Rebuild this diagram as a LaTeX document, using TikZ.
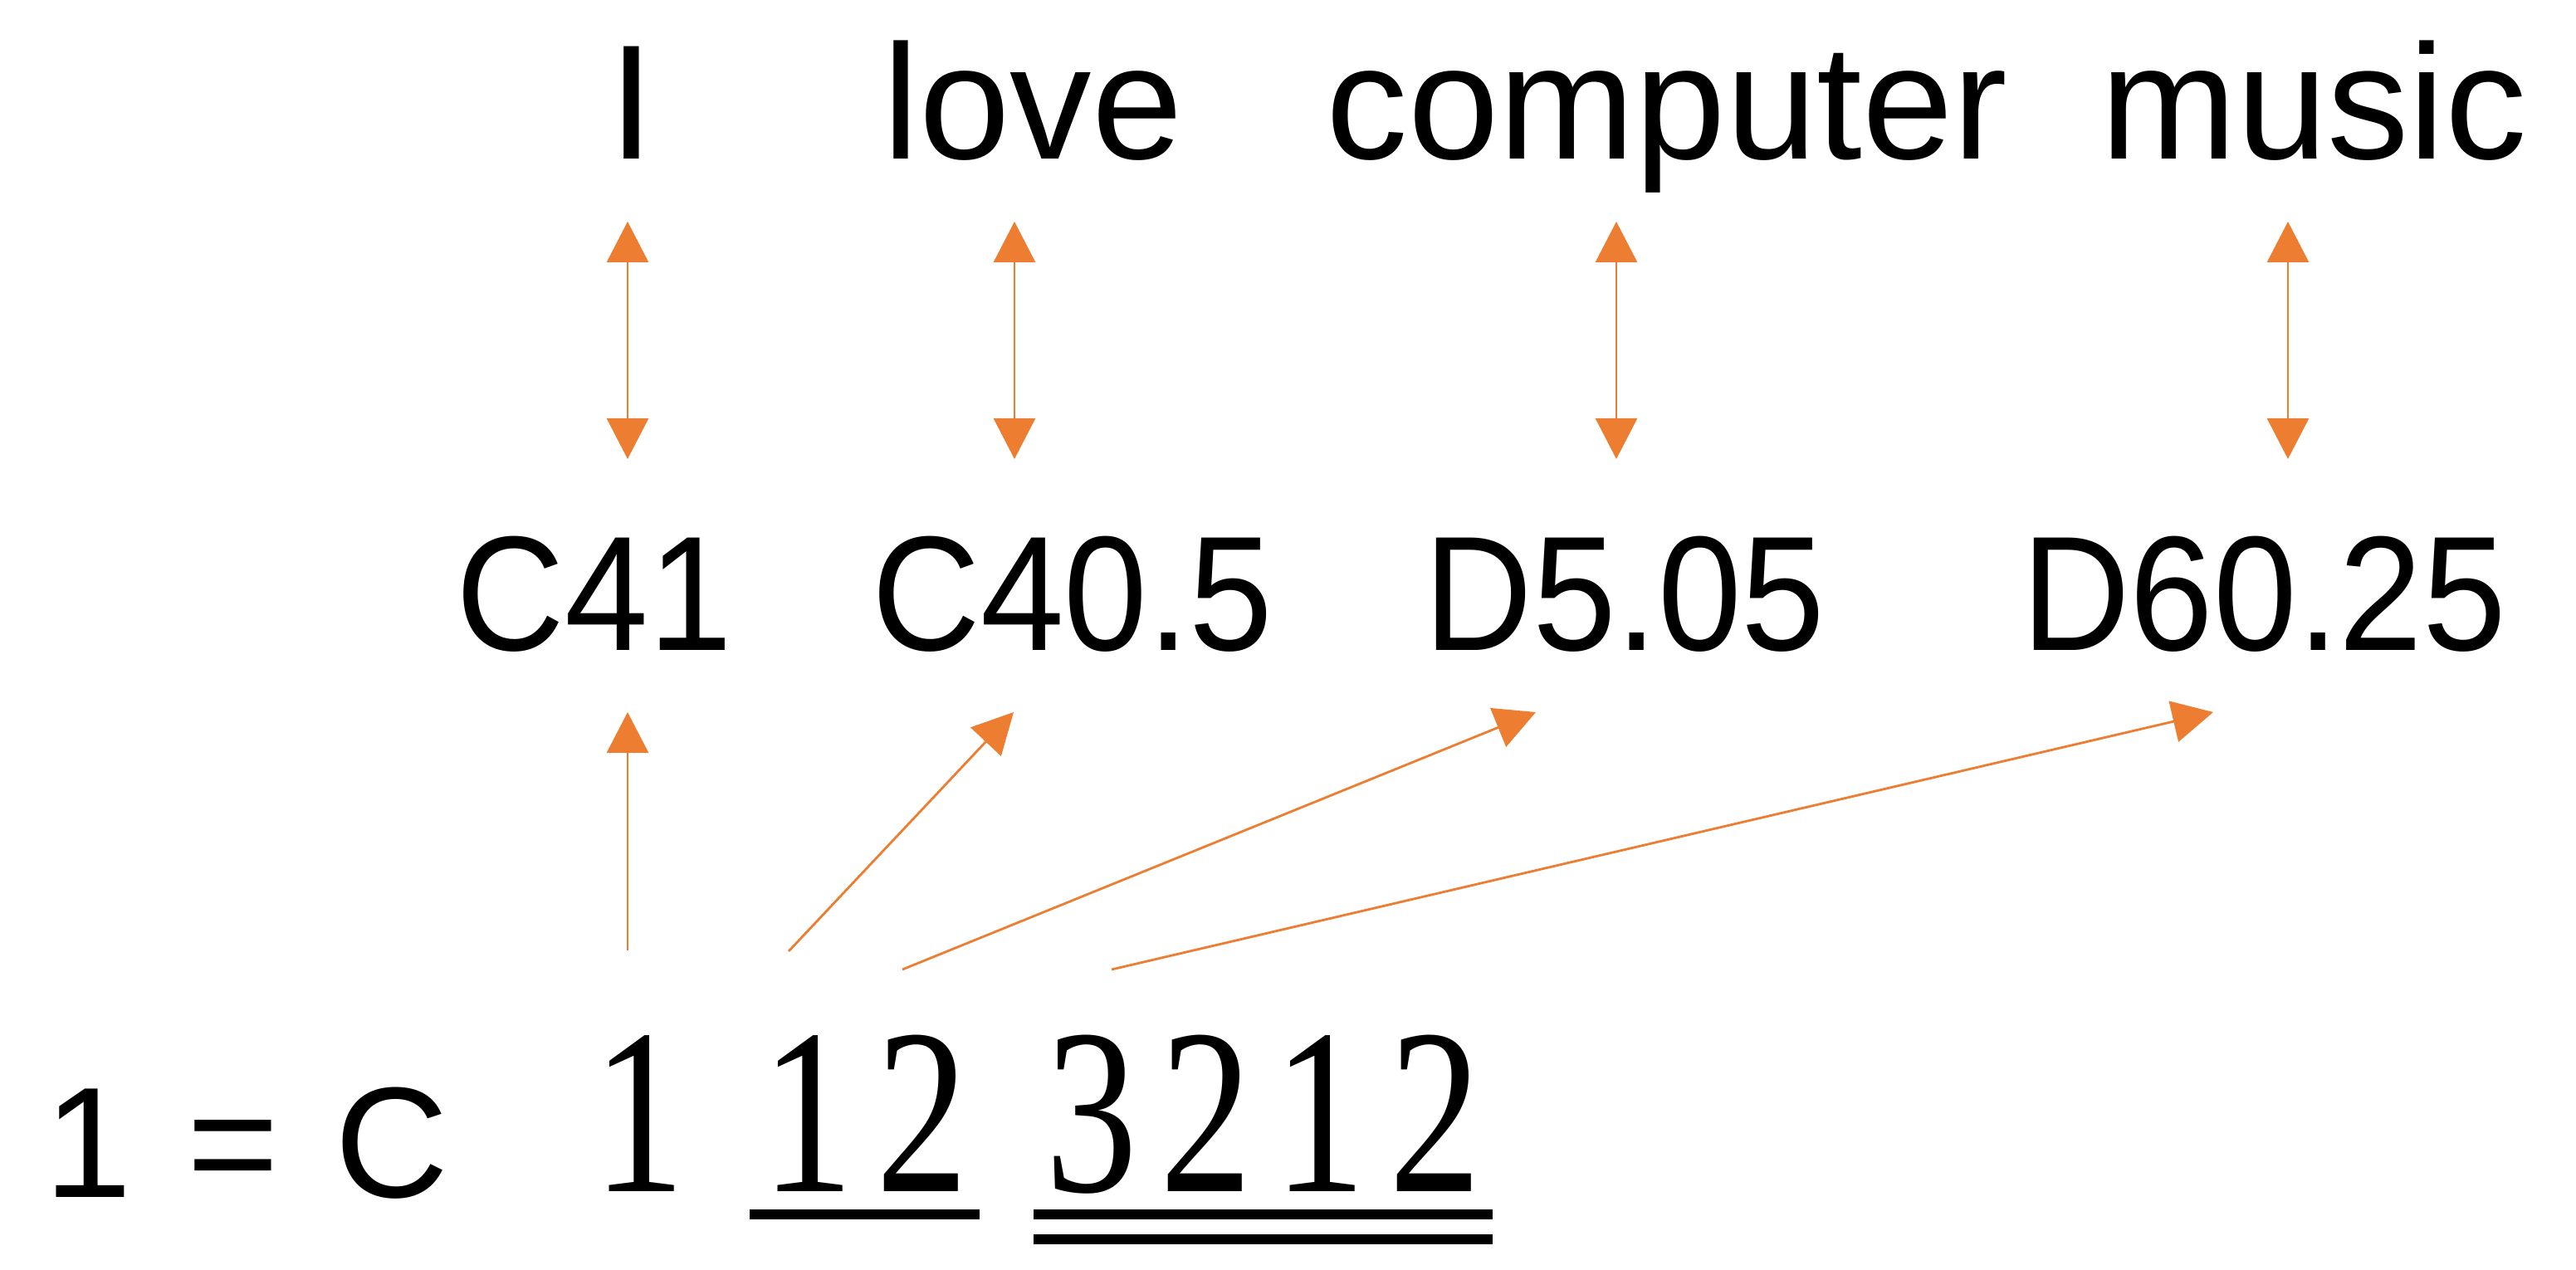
\documentclass[tikz,border=0pt]{standalone}
\usepackage{fontspec}
\setmainfont{Liberation Sans}
\newfontfamily\codefont[FakeStretch=0.92]{Liberation Sans}
\newfontfamily\jianpufont[FakeStretch=0.78]{Liberation Serif}
\usepackage{tikz}
\usetikzlibrary{arrows.meta}
\definecolor{A0}{HTML}{ED7D31}
\newcommand\jdigit[1]{\makebox[1.38cm]{#1}}
\tikzset{
  word/.style={anchor=base, inner sep=0pt, font=\fontsize{56}{60}\selectfont},
  code/.style={word, font=\codefont\fontsize{56}{60}\selectfont},
  note/.style={anchor=base west, inner sep=0pt, font=\jianpufont\fontsize{81}{90}\selectfont},
  link/.style={draw=A0, line width=0.8pt, -{Triangle[length=0.49cm, width=0.5cm]}},
  pair/.style={link, {Triangle[length=0.49cm, width=0.5cm]}-{Triangle[length=0.49cm, width=0.5cm]}},
  beam/.style={line width=0.12cm},
}

\begin{document}
\begin{tikzpicture}%
\useasboundingbox (0,0) rectangle (31.03, 15.30);%
\node[word] (w1) at (7.61, 13.38) {I};%
\node[word] (w2) at (12.44, 13.38) {love};%
\node[word] (w3) at (20.08, 13.38) {computer};%
\node[word] (w4) at (27.87, 13.38) {music};%
\node[code] (c1) at (7.16, 7.46) {C41};%
\node[code] (c2) at (12.92, 7.46) {C40.5};%
\node[code] (c3) at (19.57, 7.46) {D5.05};%
\node[code] (c4) at (27.27, 7.46) {D60.25};%
\node[word, font=\fontsize{54}{60}\selectfont] (key) at (2.97, 0.87) {1\hspace{0.14cm} = \hspace{0.14cm}C};%
\node[note] (n1) at (7.00, 0.94) {\jdigit{1}};%
\node[note] (n2) at (9.03, 0.94) {\jdigit{1}\jdigit{2}};%
\node[note] (n3) at (12.45, 0.94) {\jdigit{3}\jdigit{2}\jdigit{1}\jdigit{2}};%
% word <-> code
\coordinate (u1) at (7.56, 12.63);%
\coordinate (d1) at (7.56, 9.77);%
\coordinate (u2) at (12.22, 12.63);%
\coordinate (d2) at (12.22, 9.77);%
\coordinate (u3) at (19.47, 12.63);%
\coordinate (d3) at (19.47, 9.77);%
\coordinate (u4) at (27.56, 12.63);%
\coordinate (d4) at (27.56, 9.77);%
\draw[pair] (u1) -- (d1);%
\draw[pair] (u2) -- (d2);%
\draw[pair] (u3) -- (d3);%
\draw[pair] (u4) -- (d4);%
% notes -> code
\coordinate (s1) at (7.56, 3.85);%
\coordinate (t1) at (7.56, 6.72);%
\coordinate (s2) at (9.50, 3.84);%
\coordinate (t2) at (12.21, 6.72);%
\coordinate (s3) at (10.87, 3.62);%
\coordinate (t3) at (18.50, 6.72);%
\coordinate (s4) at (13.39, 3.62);%
\coordinate (t4) at (26.66, 6.72);%
\draw[link] (s1) -- (t1);%
\draw[link] (s2) -- (t2);%
\draw[link] (s3) -- (t3);%
\draw[link] (s4) -- (t4);%
% underlines
\draw[beam] ([yshift=-0.27cm]n2.base west) -- ([yshift=-0.27cm]n2.base east);%
\draw[beam] ([yshift=-0.27cm]n3.base west) -- ([yshift=-0.27cm]n3.base east);%
\draw[beam] ([yshift=-0.57cm]n3.base west) -- ([yshift=-0.57cm]n3.base east);%
\end{tikzpicture}
\end{document}
